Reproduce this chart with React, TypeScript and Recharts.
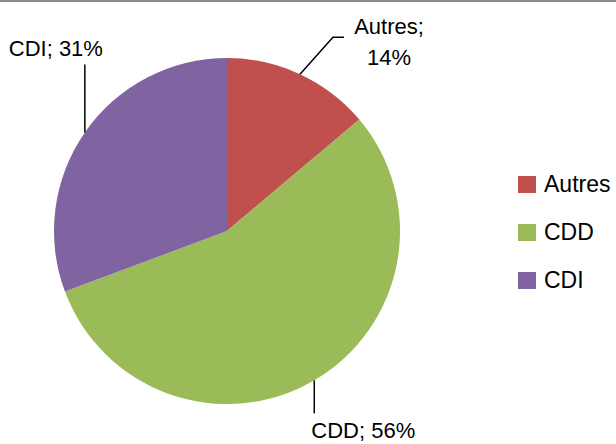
import React from 'react';
import { PieChart, Pie, Cell, Legend } from 'recharts';

const categories = ['Autres', 'CDD', 'CDI'];
const shares = [14, 56, 31];
const colors = ['#C0504D', '#9BBB59', '#8064A2'];

const data = categories.map((name, i) => ({ name, value: shares[i] }));

const FONT = '"Liberation Sans", Arial, sans-serif';
const RADIAN = Math.PI / 180;

// leader line / text placement relative to the slice edge point
const labelLayout: Record<string, { line: [number, number][]; tx: number; ty: number; split: boolean }> = {
  Autres: { line: [[33, -37], [44, -37]], tx: 89, ty: -40, split: true },
  CDD: { line: [[0, 33]], tx: 49, ty: 58, split: false },
  CDI: { line: [[0, -68]], tx: -29, ty: -76, split: false },
};

const renderLabel = (props: any) => {
  const { cx, cy, midAngle, outerRadius, name, value } = props;
  const px = cx + outerRadius * Math.cos(-midAngle * RADIAN);
  const py = cy + outerRadius * Math.sin(-midAngle * RADIAN);
  const lay = labelLayout[name];
  if (!lay) return null;
  const pts = [[px, py], ...lay.line.map(([dx, dy]) => [px + dx, py + dy])];
  const d = pts.map((p, i) => `${i ? 'L' : 'M'}${p[0]},${p[1]}`).join(' ');
  return (
    <g>
      <path d={d} stroke="#000" strokeWidth={1.5} fill="none" />
      {lay.split ? (
        <text x={px + lay.tx} y={py + lay.ty} textAnchor="middle" fontFamily={FONT} fontSize={22} fill="#000">
          <tspan x={px + lay.tx}>{`${name};`}</tspan>
          <tspan x={px + lay.tx} dy={31}>{`${value}%`}</tspan>
        </text>
      ) : (
        <text x={px + lay.tx} y={py + lay.ty} textAnchor="middle" fontFamily={FONT} fontSize={22} fill="#000">
          {`${name}; ${value}%`}
        </text>
      )}
    </g>
  );
};

const renderLegend = (props: any) => {
  const { payload } = props;
  return (
    <div>
      {(payload || []).map((entry: any, i: number) => (
        <div key={i} style={{ display: 'flex', alignItems: 'center', height: 48 }}>
          <span style={{ width: 18, height: 17, background: entry.color, display: 'inline-block', marginRight: 8 }} />
          <span style={{ fontFamily: FONT, fontSize: 23, color: '#000' }}>{entry.value}</span>
        </div>
      ))}
    </div>
  );
};

export default function App() {
  return (
    <div style={{ position: 'fixed', left: 0, top: 0, width: 616, height: 444, background: '#fff' }}>
      <div style={{ position: 'absolute', left: 0, top: 0, width: 616, height: 2, background: '#8c8c8c' }} />
      <PieChart width={616} height={444} margin={{ top: 0, right: 0, bottom: 0, left: 0 }}>
        <Pie
          data={data}
          dataKey="value"
          nameKey="name"
          cx={227}
          cy={231}
          outerRadius={173}
          startAngle={90}
          endAngle={-270}
          stroke="none"
          label={renderLabel}
          labelLine={false}
          isAnimationActive={false}
        >
          {data.map((d, i) => (
            <Cell key={d.name} fill={colors[i]} />
          ))}
        </Pie>
        <Legend
          layout="vertical"
          align="right"
          verticalAlign="top"
          content={renderLegend}
          wrapperStyle={{ left: 518, top: 160, width: 98 }}
        />
      </PieChart>
    </div>
  );
}
